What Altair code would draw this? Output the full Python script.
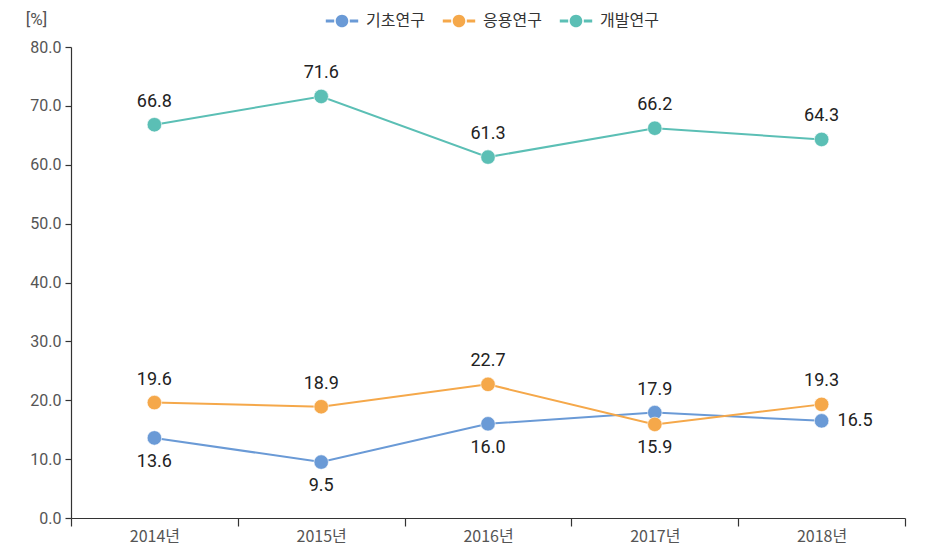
import altair as alt
import pandas as pd

years = ["2014년", "2015년", "2016년", "2017년", "2018년"]
series_names = ["기초연구", "응용연구", "개발연구"]
basic = [13.6, 9.5, 16.0, 17.9, 16.5]
applied = [19.6, 18.9, 22.7, 15.9, 19.3]
development = [66.8, 71.6, 61.3, 66.2, 64.3]
colors = ["#6a9ad6", "#f5a84a", "#5bbfb5"]
y_ticks = [0, 10, 20, 30, 40, 50, 60, 70, 80]

# label placement (style only)
placement = {
    "기초연구": ["below", "below", "below", "above", "right"],
    "응용연구": ["above", "above", "above", "below", "above"],
    "개발연구": ["above", "above", "above", "above", "above"],
}

rows = []
for name, vals in zip(series_names, [basic, applied, development]):
    for yr, v, p in zip(years, vals, placement[name]):
        rows.append({"year": yr, "series": name, "value": v, "pos": p})
df = pd.DataFrame(rows)

FONT = "Roboto, 'Noto Sans CJK KR', sans-serif"
KFONT = "'Noto Sans CJK KR', sans-serif"

# symbol drawn at scale 6px per unit: line from -16px to +16px, dot radius ~6px
legend_symbol = (
    "M-2.7,-0.25H-1.3V0.25H-2.7Z "
    "M1.3,-0.25H2.7V0.25H1.3Z "
    "M1.05,0A1.05,1.05 0 1,1 -1.05,0A1.05,1.05 0 1,1 1.05,0Z"
)

x_enc = alt.X(
    "year:N",
    sort=years,
    scale=alt.Scale(type="band", paddingInner=0, paddingOuter=0),
    axis=alt.Axis(
        title=None,
        labelAngle=0,
        labelFont=KFONT,
        labelFontSize=16,
        labelColor="#555555",
        labelPadding=2,
        tickBand="extent",
        tickSize=8,
        tickColor="#333333",
        domainColor="#333333",
        tickWidth=1.2,
        domainWidth=1.2,
        grid=False,
    ),
)
y_enc = alt.Y(
    "value:Q",
    scale=alt.Scale(domain=[0, 80], nice=False),
    axis=alt.Axis(
        title="[%]",
        titleAngle=0,
        titleX=-35,
        titleY=-28,
        titleAlign="center",
        titleBaseline="middle",
        titleFont=FONT,
        titleFontSize=17,
        titleFontWeight="normal",
        titleColor="#555555",
        values=y_ticks,
        format=".1f",
        labelFont=FONT,
        labelFontSize=16,
        labelColor="#555555",
        labelPadding=4,
        tickSize=6,
        tickColor="#333333",
        domainColor="#333333",
        tickWidth=1.2,
        domainWidth=1.2,
        grid=False,
    ),
)
color_enc = alt.Color(
    "series:N",
    sort=series_names,
    scale=alt.Scale(domain=series_names, range=colors),
    legend=alt.Legend(
        title=None,
        orient="none",
        direction="horizontal",
        legendX=263,
        legendY=-34,
        symbolType=legend_symbol,
        symbolSize=144,
        symbolStrokeWidth=0,
        symbolOpacity=1,
        labelFont=KFONT,
        labelFontSize=16,
        labelColor="#333333",
        labelOffset=16,
        columnPadding=17,
    ),
)

base = alt.Chart(df).encode(x=x_enc, y=y_enc)

lines = base.mark_line(strokeWidth=2).encode(color=color_enc, detail="series:N")
points = base.mark_point(
    filled=True, size=210, opacity=1, stroke="#ffffff", strokeWidth=1, strokeOpacity=0.6
).encode(
    fill=alt.Fill("series:N", sort=series_names, scale=alt.Scale(domain=series_names, range=colors), legend=None)
)

text_common = dict(font=FONT, fontSize=18, color="#222222", baseline="middle")
above = base.transform_filter(alt.datum.pos == "above").mark_text(dy=-23, **text_common).encode(
    text=alt.Text("value:Q", format=".1f")
)
below = base.transform_filter(alt.datum.pos == "below").mark_text(dy=24, **text_common).encode(
    text=alt.Text("value:Q", format=".1f")
)
right = base.transform_filter(alt.datum.pos == "right").mark_text(dx=16, align="left", **text_common).encode(
    text=alt.Text("value:Q", format=".1f")
)

chart = (
    alt.layer(lines, points, above, below, right)
    .properties(
        width=834,
        height=471,
        autosize=alt.AutoSizeParams(type="none"),
        padding={"left": 63, "top": 39, "right": 10, "bottom": 30},
        background="#ffffff",
    )
    .configure_view(stroke=None)
)

chart.save("out.html", embed_options={"renderer": "svg", "actions": False})
